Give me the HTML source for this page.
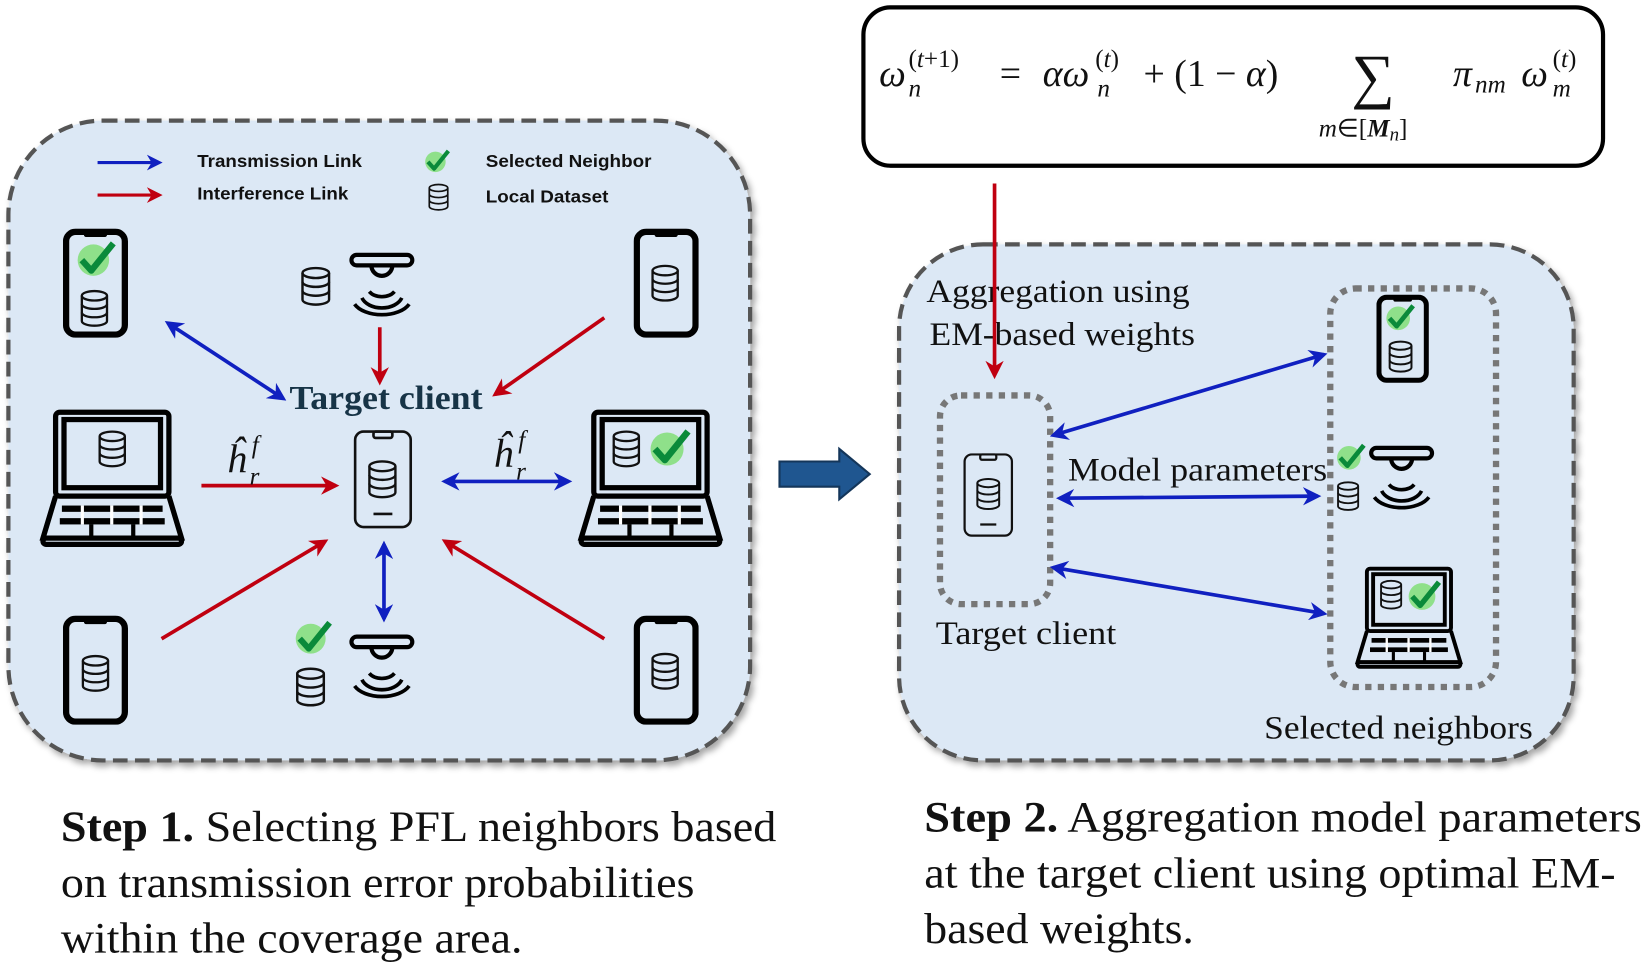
<!DOCTYPE html>
<html><head><meta charset="utf-8"><style>
html,body{margin:0;padding:0;background:#fff;}
svg{display:block;}
.lg{font-family:"Liberation Sans",sans-serif;font-weight:bold;font-size:17px;fill:#111;}
.sf{font-family:"Liberation Serif",serif;fill:#111;}
</style></head><body>
<svg width="1645" height="966" viewBox="0 0 1568 921" preserveAspectRatio="none" xmlns="http://www.w3.org/2000/svg">
<defs>
<marker id="ab" viewBox="0 0 10 10" refX="8" refY="5" markerWidth="5" markerHeight="5" orient="auto-start-reverse"><path d="M0,0 L10,5 L0,10 L3,5 z" fill="#1020c0"/></marker>
<marker id="ar" viewBox="0 0 10 10" refX="8" refY="5" markerWidth="5" markerHeight="5" orient="auto-start-reverse"><path d="M0,0 L10,5 L0,10 L3,5 z" fill="#c00010"/></marker>
<symbol id="db" viewBox="0 0 30 36"><g fill="none" stroke="#111" stroke-width="2.2"><ellipse cx="15" cy="6" rx="12" ry="4.5"/><path d="M3,6 V30 A12,4.5 0 0 0 27,30 V6"/><path d="M3,14 A12,4.5 0 0 0 27,14 M3,22 A12,4.5 0 0 0 27,22"/></g></symbol>
<symbol id="chk" viewBox="0 0 40 40"><circle cx="17" cy="22" r="15" fill="#8fe08a"/><path d="M6,22 L15,32 L36,6" fill="none" stroke="#0a8a3a" stroke-width="6" stroke-linejoin="round"/></symbol>
<symbol id="ph" viewBox="0 0 62 104"><rect x="3" y="3" width="56" height="98" rx="9" fill="none" stroke="#000" stroke-width="6"/><rect x="20" y="3" width="22" height="5" rx="2" fill="#000"/></symbol>
<symbol id="phthin" viewBox="0 0 56 94"><rect x="1.5" y="1.5" width="53" height="91" rx="8" fill="none" stroke="#111" stroke-width="2.5"/><rect x="19" y="1.5" width="18" height="6" rx="2" fill="none" stroke="#111" stroke-width="2.5"/><line x1="19" y1="80" x2="37" y2="80" stroke="#111" stroke-width="2.5"/></symbol>
<symbol id="lap" viewBox="0 0 140 132"><g fill="none" stroke="#000" stroke-width="5"><rect x="16" y="3" width="108" height="80" rx="4"/><rect x="24" y="10" width="92" height="65"/><path d="M16,83 L4,123 H136 L124,83"/><rect x="4" y="123" width="132" height="6" rx="3"/></g><g fill="#000"><rect x="22" y="92" width="96" height="6"/><rect x="20" y="104" width="100" height="6"/><rect x="40" y="92" width="3" height="18" fill="#fff"/><rect x="68" y="92" width="3" height="18" fill="#fff"/><rect x="96" y="92" width="3" height="18" fill="#fff"/><rect x="48" y="110" width="4" height="13"/><rect x="88" y="110" width="4" height="13"/></g></symbol>
<symbol id="sen" viewBox="0 0 64 66"><rect x="3" y="3" width="58" height="10" rx="5" fill="none" stroke="#000" stroke-width="4"/><path d="M22,13 A10,10 0 0 0 42,13" fill="none" stroke="#000" stroke-width="4"/><path d="M20,38 A14,10 0 0 0 44,38 M13,44 A20,14 0 0 0 51,44 M6,50 A28,16 0 0 0 58,50" fill="none" stroke="#000" stroke-width="3.5"/></symbol>
<filter id="sh" x="-5%" y="-5%" width="110%" height="110%"><feDropShadow dx="3" dy="4" stdDeviation="3" flood-color="#000" flood-opacity="0.35"/></filter>
</defs>

<rect x="8" y="115" width="707" height="610" rx="90" fill="#dce8f5" stroke="#555" stroke-width="4" stroke-dasharray="14,7" filter="url(#sh)"/>
<line x1="93" y1="155" x2="152" y2="155" stroke="#1020c0" stroke-width="3" marker-end="url(#ab)"/>
<line x1="93" y1="186" x2="152" y2="186" stroke="#c00010" stroke-width="3" marker-end="url(#ar)"/>
<text class="lg" x="188" y="159" textLength="157" lengthAdjust="spacingAndGlyphs">Transmission Link</text>
<text class="lg" x="188" y="190" textLength="144" lengthAdjust="spacingAndGlyphs">Interference Link</text>
<use href="#chk" x="404" y="140" width="26" height="26"/>
<use href="#db" x="407" y="174" width="22" height="28"/>
<text class="lg" x="463" y="159" textLength="158" lengthAdjust="spacingAndGlyphs">Selected Neighbor</text>
<text class="lg" x="463" y="193" textLength="117" lengthAdjust="spacingAndGlyphs">Local Dataset</text>

<use href="#ph" x="60" y="218" width="62" height="104"/>
<use href="#chk" x="72" y="226" width="40" height="40"/>
<use href="#db" x="75" y="275" width="30" height="38"/>
<use href="#ph" x="604" y="218" width="62" height="104"/>
<use href="#db" x="619" y="252" width="30" height="36"/>
<use href="#ph" x="60" y="587" width="62" height="104"/>
<use href="#db" x="76" y="624" width="30" height="36"/>
<use href="#ph" x="604" y="587" width="62" height="104"/>
<use href="#db" x="619" y="622" width="30" height="36"/>

<use href="#lap" x="37" y="390" width="140" height="132"/>
<use href="#db" x="92" y="410" width="30" height="36"/>
<use href="#lap" x="550" y="390" width="140" height="132"/>
<use href="#db" x="582" y="410" width="30" height="36"/>
<use href="#chk" x="618" y="405" width="42" height="42"/>

<use href="#db" x="285" y="254" width="32" height="38"/>
<use href="#sen" x="332" y="240" width="64" height="66"/>
<use href="#chk" x="280" y="588" width="38" height="38"/>
<use href="#db" x="280" y="636" width="32" height="38"/>
<use href="#sen" x="332" y="604" width="64" height="66"/>

<use href="#phthin" x="337" y="410" width="56" height="94"/>
<use href="#db" x="349" y="437" width="31" height="40"/>

<g stroke-width="3.5" fill="none">
<line x1="160" y1="308" x2="270" y2="380" stroke="#1020c0" marker-start="url(#ab)" marker-end="url(#ab)"/>
<line x1="362" y1="312" x2="362" y2="364" stroke="#c00010" marker-end="url(#ar)"/>
<line x1="576" y1="303" x2="472" y2="376" stroke="#c00010" marker-end="url(#ar)"/>
<line x1="192" y1="463" x2="320" y2="463" stroke="#c00010" marker-end="url(#ar)"/>
<line x1="424" y1="459" x2="542" y2="459" stroke="#1020c0" marker-start="url(#ab)" marker-end="url(#ab)"/>
<line x1="154" y1="609" x2="310" y2="516" stroke="#c00010" marker-end="url(#ar)"/>
<line x1="576" y1="609" x2="424" y2="516" stroke="#c00010" marker-end="url(#ar)"/>
<line x1="366" y1="519" x2="366" y2="590" stroke="#1020c0" marker-start="url(#ab)" marker-end="url(#ab)"/>
</g>
<text x="276" y="390" textLength="184" lengthAdjust="spacingAndGlyphs" style="font-family:'Liberation Serif',serif;font-weight:bold;font-size:32px;fill:#173447">Target client</text>
<text class="sf" x="216" y="450" style="font-style:italic;font-size:38px">ĥ</text><text class="sf" x="240" y="432" style="font-style:italic;font-size:24px">f</text><text class="sf" x="238" y="462" style="font-style:italic;font-size:24px">r</text>
<text class="sf" x="470" y="445" style="font-style:italic;font-size:38px">ĥ</text><text class="sf" x="494" y="427" style="font-style:italic;font-size:24px">f</text><text class="sf" x="492" y="457" style="font-style:italic;font-size:24px">r</text>

<path d="M743,440 H800 V428 L829,452 L800,476 V464 H743 Z" fill="#1f5690" stroke="#14365a" stroke-width="2"/>

<rect x="823" y="7" width="705" height="151" rx="26" fill="#fff" stroke="#000" stroke-width="4"/>
<g class="sf">
<text x="838" y="82" style="font-size:36px;font-style:italic">ω</text>
<text x="866" y="64" style="font-size:24px">(<tspan font-style="italic">t</tspan>+1)</text>
<text x="866" y="92" style="font-size:24px;font-style:italic">n</text>
<text x="953" y="82" style="font-size:36px">=</text>
<text x="994" y="82" style="font-size:36px;font-style:italic">αω</text>
<text x="1044" y="64" style="font-size:24px">(<tspan font-style="italic">t</tspan>)</text>
<text x="1046" y="92" style="font-size:24px;font-style:italic">n</text>
<text x="1090" y="82" style="font-size:36px">+ (1 − <tspan font-style="italic">α</tspan>)</text>
<text x="1288" y="92" style="font-size:58px">∑</text>
<text x="1257" y="130" style="font-size:24px"><tspan font-style="italic">m</tspan>∈[<tspan font-weight="bold" font-style="italic">M</tspan><tspan font-style="italic" dy="4" font-size="18">n</tspan><tspan dy="-4">]</tspan></text>
<text x="1385" y="82" style="font-size:36px;font-style:italic">π</text>
<text x="1406" y="88" style="font-size:24px;font-style:italic">nm</text>
<text x="1450" y="82" style="font-size:36px;font-style:italic">ω</text>
<text x="1480" y="64" style="font-size:24px">(<tspan font-style="italic">t</tspan>)</text>
<text x="1480" y="92" style="font-size:24px;font-style:italic">m</text>
</g>

<rect x="857" y="233" width="643" height="492" rx="80" fill="#dce8f5" stroke="#555" stroke-width="4" stroke-dasharray="14,7" filter="url(#sh)"/>
<text class="sf" x="883" y="288" style="font-size:31px" textLength="251" lengthAdjust="spacingAndGlyphs">Aggregation using</text>
<text class="sf" x="886" y="329" style="font-size:31px" textLength="253" lengthAdjust="spacingAndGlyphs">EM-based weights</text>
<line x1="948" y1="175" x2="948" y2="358" stroke="#c00010" stroke-width="3.5" marker-end="url(#ar)"/>
<rect x="896" y="377" width="105" height="199" rx="20" fill="none" stroke="#777" stroke-width="6" stroke-dasharray="6,6"/>
<use href="#phthin" x="918" y="432" width="48" height="80"/>
<use href="#db" x="929" y="455" width="26" height="32"/>
<text class="sf" x="892" y="614" style="font-size:31px" textLength="172" lengthAdjust="spacingAndGlyphs">Target client</text>
<rect x="1268" y="275" width="158" height="380" rx="24" fill="none" stroke="#777" stroke-width="6" stroke-dasharray="6,6"/>
<use href="#ph" x="1312" y="280" width="50" height="86"/>
<use href="#chk" x="1320" y="287" width="30" height="30"/>
<use href="#db" x="1322" y="323" width="26" height="34"/>
<use href="#chk" x="1273" y="420" width="30" height="30"/>
<use href="#db" x="1273" y="458" width="24" height="30"/>
<use href="#sen" x="1303" y="424" width="66" height="66"/>
<use href="#lap" x="1291" y="540" width="104" height="98"/>
<use href="#db" x="1314" y="552" width="24" height="30"/>
<use href="#chk" x="1341" y="550" width="34" height="34"/>
<g stroke="#1020c0" stroke-width="3.5">
<line x1="1004" y1="415" x2="1262" y2="338" marker-start="url(#ab)" marker-end="url(#ab)"/>
<line x1="1010" y1="475" x2="1256" y2="473" marker-start="url(#ab)" marker-end="url(#ab)"/>
<line x1="1004" y1="541" x2="1262" y2="585" marker-start="url(#ab)" marker-end="url(#ab)"/>
</g>
<text class="sf" x="1018" y="458" style="font-size:31px" textLength="247" lengthAdjust="spacingAndGlyphs">Model parameters</text>
<text class="sf" x="1205" y="704" style="font-size:31px" textLength="256" lengthAdjust="spacingAndGlyphs">Selected neighbors</text>

<g class="sf" style="font-size:41px">
<text x="58" y="802" textLength="682" lengthAdjust="spacingAndGlyphs"><tspan font-weight="bold">Step 1.</tspan> Selecting PFL neighbors based</text>
<text x="58" y="855" textLength="604" lengthAdjust="spacingAndGlyphs">on transmission error probabilities</text>
<text x="58" y="908" textLength="440" lengthAdjust="spacingAndGlyphs">within the coverage area.</text>
<text x="881" y="793" textLength="684" lengthAdjust="spacingAndGlyphs"><tspan font-weight="bold">Step 2.</tspan> Aggregation model parameters</text>
<text x="881" y="846" textLength="659" lengthAdjust="spacingAndGlyphs">at the target client using optimal EM-</text>
<text x="881" y="899" textLength="257" lengthAdjust="spacingAndGlyphs">based weights.</text>
</g>
</svg>
</body></html>
